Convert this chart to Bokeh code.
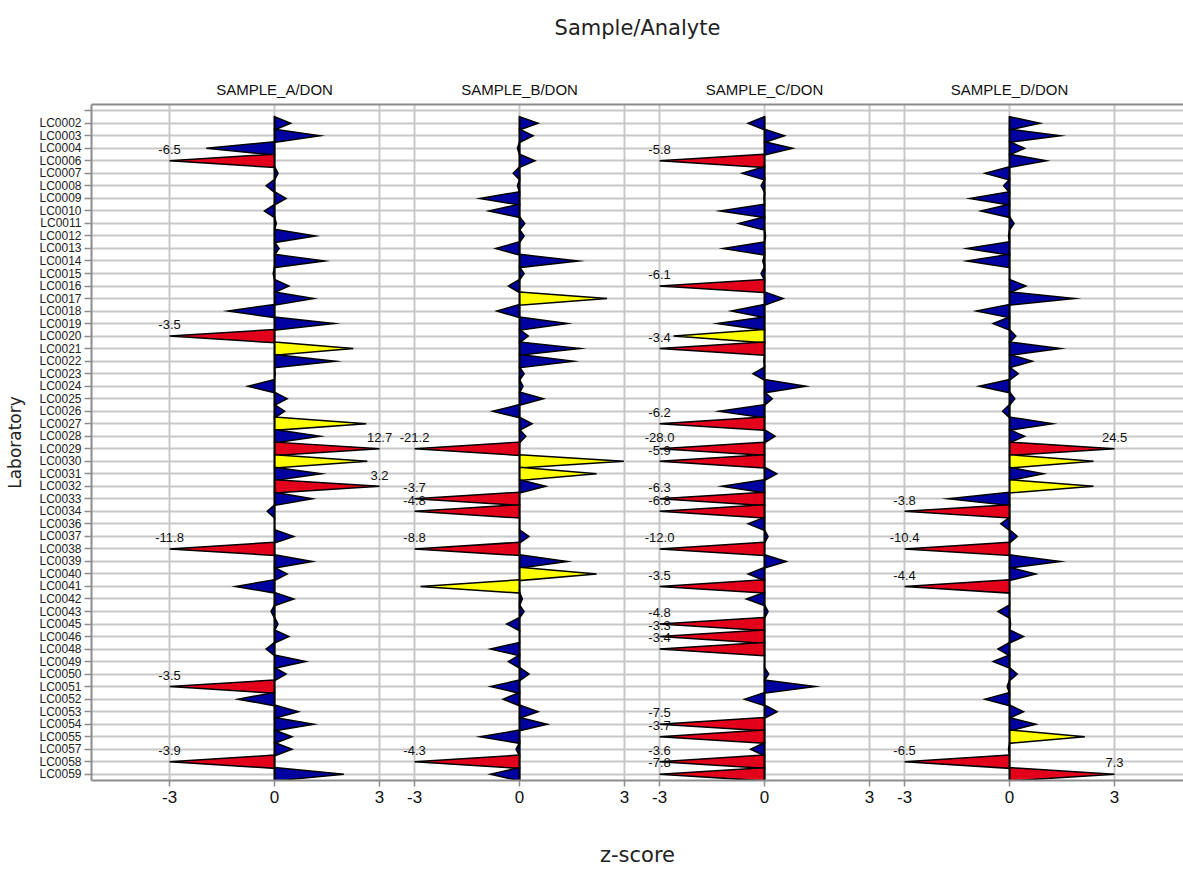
from bokeh.plotting import figure
from bokeh.models import Range1d, FixedTicker, LinearAxis, ColumnDataSource
from bokeh.core.properties import value
from bokeh.embed import file_html
from bokeh.resources import INLINE

labs = ["LC0002", "LC0003", "LC0004", "LC0006", "LC0007", "LC0008", "LC0009", "LC0010",
        "LC0011", "LC0012", "LC0013", "LC0014", "LC0015", "LC0016", "LC0017", "LC0018",
        "LC0019", "LC0020", "LC0021", "LC0022", "LC0023", "LC0024", "LC0025", "LC0026",
        "LC0027", "LC0028", "LC0029", "LC0030", "LC0031", "LC0032", "LC0033", "LC0034",
        "LC0036", "LC0037", "LC0038", "LC0039", "LC0040", "LC0041", "LC0042", "LC0043",
        "LC0045", "LC0046", "LC0048", "LC0049", "LC0050", "LC0051", "LC0052", "LC0053",
        "LC0054", "LC0055", "LC0057", "LC0058", "LC0059"]

samples = ["SAMPLE_A/DON", "SAMPLE_B/DON", "SAMPLE_C/DON", "SAMPLE_D/DON"]

z_a = [0.46, 1.30, -1.95, -6.5, 0.10, -0.24, 0.33, -0.29,
       0.05, 1.17, 0.13, 1.43, -0.04, 0.41, 1.12, -1.33,
       1.70, -3.5, 2.25, 1.74, 0.02, -0.76, 0.36, 0.29,
       2.62, 1.30, 12.7, 2.65, 1.34, 3.2, 1.08, -0.21,
       0.0, 0.55, -11.8, 1.08, 0.36, -1.11, 0.55, -0.10,
       0.10, 0.41, -0.24, 0.89, 0.33, -3.5, -1.04, 0.68,
       1.12, 0.50, 0.50, -3.9, 1.98]

z_b = [0.53, 0.39, -0.06, 0.44, -0.18, -0.06, -1.13, -0.88,
       0.15, 0.13, -0.68, 1.68, 0.13, -0.32, 2.50, -0.65,
       1.37, 0.25, 1.72, 1.54, 0.13, 0.10, 0.68, -0.77,
       0.36, 0.18, -21.2, 2.98, 2.20, 0.75, -3.7, -4.8,
       0.0, 0.27, -8.8, 1.36, 2.20, -2.83, 0.08, 0.13,
       -0.37, 0.0, -0.83, -0.32, 0.27, -0.83, -0.47, 0.53,
       0.79, -1.13, -0.10, -4.3, -0.83]

z_c = [-0.47, 0.57, 0.80, -5.8, -0.64, -0.10, -0.02, -1.27,
       -0.74, 0.03, -1.18, -0.05, -0.10, -6.1, 0.53, -0.95,
       -1.35, -2.60, -3.4, -0.02, -0.33, 1.18, 0.22, -1.30,
       -6.2, 0.30, -28.0, -5.9, 0.35, -1.22, -6.3, -6.8,
       -0.47, 0.10, -12.0, 0.62, -0.47, -3.5, -0.52, 0.10,
       -4.8, -3.3, -3.4, 0.0, 0.12, 1.45, -0.57, 0.36,
       -7.5, -3.7, -0.40, -3.6, -7.8]

z_d = [0.87, 1.45, 0.43, 1.05, -0.70, -0.17, -1.13, -0.82,
       0.13, -0.03, -1.22, -1.22, 0.0, 0.47, 1.85, -0.95,
       -0.47, 0.18, 1.45, 0.65, 0.25, -0.87, 0.15, -0.20,
       1.23, 0.43, 24.5, 2.40, 0.97, 2.40, -1.75, -3.8,
       -0.25, 0.22, -10.4, 1.45, 0.75, -4.4, 0.0, -0.33,
       0.03, 0.40, -0.33, -0.47, 0.22, -0.07, -0.70, 0.40,
       0.75, 2.15, -0.03, -6.5, 7.3]

series = [z_a, z_b, z_c, z_d]
panel_offsets = [0, 7, 14, 21]
tick_vals = [-3, 0, 3]

BLUE = "#0000A0"
YELLOW = "#FFFF00"
RED = "#E2001A"
GRID = "#C8C8C8"
AXIS = "#8C8C8C"

n_rows = len(labs) + 1  # blank row on top
p = figure(width=1183, height=869, output_backend="svg", toolbar_location=None,
           x_range=Range1d(-5.23, 25.97), y_range=Range1d(n_rows - 0.5, -0.5),
           min_border_left=91, min_border_right=0, min_border_top=104, min_border_bottom=88,
           x_axis_location=None, y_axis_location=None)
p.outline_line_color = None
p.background_fill_color = "#FFFFFF"
p.border_fill_color = "#FFFFFF"

# axes
xt = []
xover = {}
for off in panel_offsets:
    for t in tick_vals:
        xt.append(off + t)
        xover[off + t] = str(t)

bottom = LinearAxis(ticker=FixedTicker(ticks=xt), major_label_overrides=xover)
bottom.axis_line_color = AXIS
bottom.axis_line_width = 2
bottom.major_tick_line_color = AXIS
bottom.major_tick_line_width = 1.5
bottom.major_tick_out = 6
bottom.major_tick_in = 0
bottom.minor_tick_line_color = None
bottom.major_label_standoff = 4
bottom.major_label_text_font = "Liberation Sans"
bottom.major_label_text_font_size = "17px"
bottom.major_label_text_color = "#111111"
bottom.axis_label = "z-score"
bottom.axis_label_text_font = "DejaVu Sans"
bottom.axis_label_text_font_size = "21px"
bottom.axis_label_text_font_style = "normal"
bottom.axis_label_text_color = "#222222"
bottom.axis_label_standoff = 37
p.add_layout(bottom, "below")

rows = list(range(n_rows))
yover = {0: ""}
for i, lab in enumerate(labs):
    yover[i + 1] = lab
left = LinearAxis(ticker=FixedTicker(ticks=rows), major_label_overrides=yover)
left.axis_line_color = AXIS
left.axis_line_width = 2
left.major_tick_line_color = AXIS
left.major_tick_line_width = 1.5
left.major_tick_out = 7
left.major_tick_in = 0
left.minor_tick_line_color = None
left.major_label_standoff = 3
left.major_label_text_font = "Liberation Sans"
left.major_label_text_font_size = "12px"
left.major_label_text_color = "#222222"
left.axis_label = "Laboratory"
left.axis_label_text_font = "DejaVu Sans"
left.axis_label_text_font_size = "17px"
left.axis_label_text_font_style = "normal"
left.axis_label_text_color = "#222222"
left.axis_label_standoff = 11
p.add_layout(left, "left")

top = LinearAxis(ticker=FixedTicker(ticks=panel_offsets),
                 major_label_overrides={off: s for off, s in zip(panel_offsets, samples)})
top.axis_line_color = AXIS
top.axis_line_width = 2
top.major_tick_line_color = None
top.major_tick_out = 0
top.major_tick_in = 0
top.minor_tick_line_color = None
top.major_label_standoff = 7
top.major_label_text_font = "Liberation Sans"
top.major_label_text_font_size = "15px"
top.major_label_text_color = "#111111"
top.axis_label = "Sample/Analyte"
top.axis_label_text_font = "DejaVu Sans"
top.axis_label_text_font_size = "21px"
top.axis_label_text_font_style = "normal"
top.axis_label_text_color = "#222222"
top.axis_label_standoff = 38
p.add_layout(top, "above")

# grids
p.xgrid.ticker = FixedTicker(ticks=xt)
p.ygrid.ticker = FixedTicker(ticks=rows)
p.xgrid.grid_line_color = GRID
p.ygrid.grid_line_color = GRID
p.xgrid.grid_line_width = 2
p.ygrid.grid_line_width = 2

# triangles
xs, ys, colors = [], [], []
lx, ly, ltxt = [], [], []
half = 0.53
for off, zs in zip(panel_offsets, series):
    for i, z in enumerate(zs):
        r = i + 1
        zc = max(-3.0, min(3.0, z))
        xs.append([off, off + zc, off])
        ys.append([r - half, r, r + half])
        az = abs(z)
        if az > 3:
            colors.append(RED)
            lx.append(off + zc)
            ly.append(r - 0.9)
            ltxt.append("%.1f" % z)
        elif az > 2:
            colors.append(YELLOW)
        else:
            colors.append(BLUE)

p.patches(xs=xs, ys=ys, fill_color=colors, line_color="black", line_width=1.5,
          line_join="miter")

for off in panel_offsets:
    p.segment(x0=[off], y0=[1 - half], x1=[off], y1=[n_rows - 0.5],
              line_color="black", line_width=1.8)

src = ColumnDataSource(dict(x=lx, y=ly, t=ltxt))
p.text(x="x", y="y", text="t", source=src, text_align="center", text_baseline="middle",
       text_font=value("Liberation Sans"), text_font_size="13px", text_color="#111111")

open("out.html", "w").write(file_html(p, INLINE))
